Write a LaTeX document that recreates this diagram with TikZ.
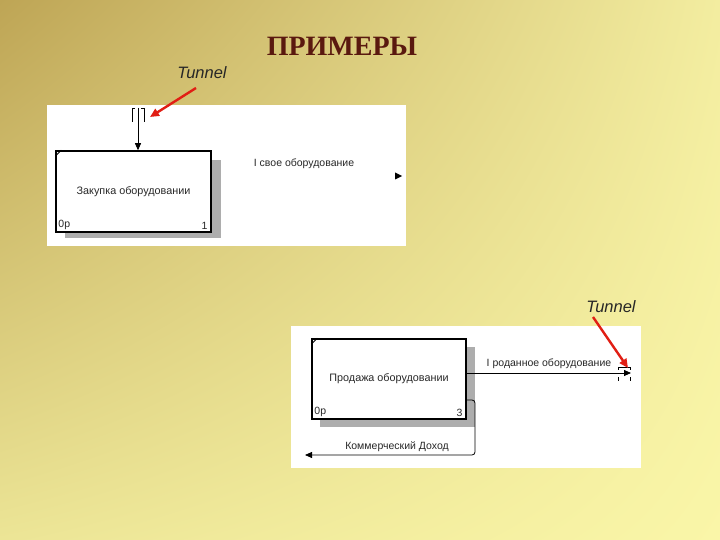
\documentclass[tikz,border=0pt]{standalone}
\usepackage{fontspec}
\setmainfont{Liberation Sans}
\newfontfamily\titlefont{Liberation Serif}
\usetikzlibrary{arrows.meta,patterns,shadings}
\definecolor{bgTL}{RGB}{190,165,85}
\definecolor{bgTR}{RGB}{243,237,160}
\definecolor{bgBL}{RGB}{236,229,150}
\definecolor{bgBR}{RGB}{250,246,168}
\definecolor{titlecol}{RGB}{90,25,15}
\definecolor{redarrow}{RGB}{225,30,20}
\definecolor{diagtext}{RGB}{40,40,40}
\begin{document}
\begin{tikzpicture}[x=1pt,y=-1pt,
  panel/.style={fill=white,draw=none,inner sep=0pt},
  box/.style={draw=black,line width=1.5pt,fill=white,inner sep=0pt,
    font=\fontsize{10.8}{12}\selectfont,text=diagtext},
  shadowbox/.style={fill=black!32},
  small/.style={font=\fontsize{10.5}{12}\selectfont,text=diagtext,inner sep=1pt},
  lbl/.style={font=\fontsize{10.5}{12}\selectfont,text=diagtext,inner sep=1pt},
  arr/.style={line width=0.8pt,-{Triangle[length=7pt,width=6pt]}},
  redarr/.style={line width=2.4pt,redarrow,-{Triangle[length=9pt,width=8pt]}},
  tunneltxt/.style={font=\itshape\fontsize{16.5}{18}\selectfont,text=black!85},
  brk/.style={line width=0.7pt}
]
\useasboundingbox (0,0) rectangle (720,540);
\shade[upper left=bgTL,upper right=bgTR,lower left=bgBL,lower right=bgBR] (0,0) rectangle (720,540);

% title
\node[font=\titlefont\bfseries\fontsize{28}{30}\selectfont,text=titlecol] (title) at (342,46) {ПРИМЕРЫ};

% tunnel labels
\node[tunneltxt] (tun1) at (202,73) {Tunnel};
\node[tunneltxt] (tun2) at (611,307) {Tunnel};

% panels
\node[panel,minimum width=359pt,minimum height=141pt] (p1) at (226.5,175.5) {};
\node[panel,minimum width=350pt,minimum height=142pt] (p2) at (466,397) {};

% ---------- diagram 1
\fill[shadowbox] (65,160) rectangle (221,238);
\node[box,minimum width=155pt,minimum height=81pt] (b1) at (133.5,191.5) {Закупка оборудовании};
\draw[line width=1pt] ([yshift=-6pt]b1.north west) -- ([xshift=6pt]b1.north west);
\node[small,anchor=south west] (b1a) at ([xshift=2pt,yshift=2pt]b1.south west) {0p};
\node[small,anchor=south east] (b1b) at ([xshift=-3pt,yshift=2pt]b1.south east) {1};

\coordinate (t1) at (138,108);
\draw[arr] (t1) -- (b1.north -| t1);
\draw[brk] (132,122) -- (132,108) -- (135,108);
\draw[brk] (141,108) -- (144,108) -- (144,122);

\node[lbl] (l1) at (304,164) {I свое оборудование};
\coordinate (o1) at (402,176);
\fill (o1) -- ++(-7,-3.5) -- ++(0,7) -- cycle;

% ---------- diagram 2
\fill[shadowbox] (320,347) rectangle (475,427);
\node[box,minimum width=154pt,minimum height=80pt] (b2) at (389,379) {Продажа оборудовании};
\draw[line width=1pt] ([yshift=-6pt]b2.north west) -- ([xshift=6pt]b2.north west);
\node[small,anchor=south west] (b2a) at ([xshift=2pt,yshift=2pt]b2.south west) {0p};
\node[small,anchor=south east] (b2b) at ([xshift=-3pt,yshift=2pt]b2.south east) {3};

\coordinate (o2) at (631,373);
\draw[arr] (b2.east |- o2) -- (o2);
\node[lbl] (l2) at (549,364) {I роданное оборудование};
\draw[brk] (618,370) -- (618,367) -- (630,367) -- (630,370);
\draw[brk] (618,377) -- (618,381);
\draw[brk] (630,377) -- (630,381);

\coordinate (f1) at (466,400);
\coordinate (f2) at (475,400);
\coordinate (f3) at (475,455);
\coordinate (f4) at (305,455);
\draw[arr,rounded corners=3pt] (f1) -- (f2) -- (f3) -- (f4);
\node[lbl] (l3) at (397,447) {Коммерческий Доход};

% red pointer arrows
\draw[redarr] (196,88) -- (150,117);
\draw[redarr] (593,317) -- (628,368);
\end{tikzpicture}
\end{document}
